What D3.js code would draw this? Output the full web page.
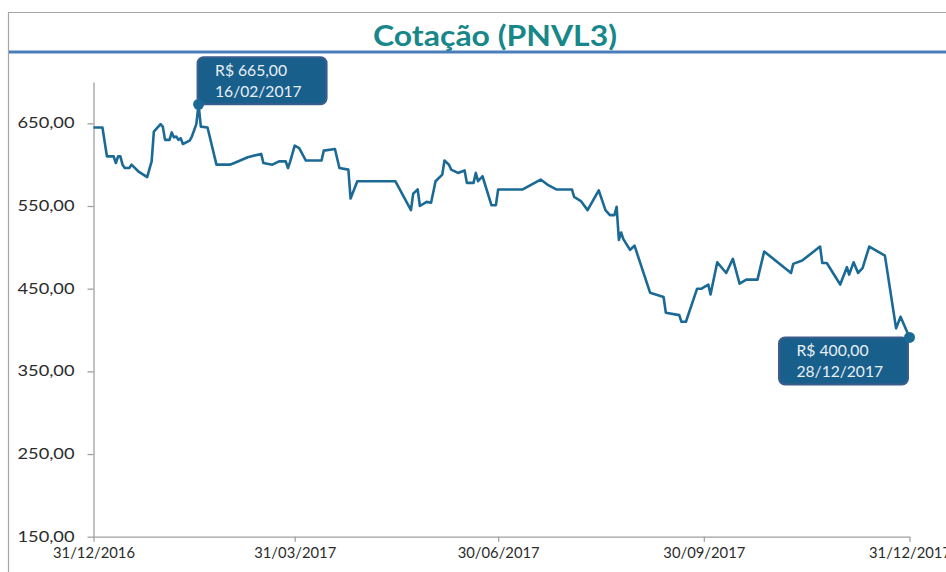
<!DOCTYPE html>
<html>
<head>
<meta charset="utf-8">
<script src="https://cdn.jsdelivr.net/npm/d3@7"></script>
<style>
  html, body { margin: 0; padding: 0; background: #ffffff; }
  svg { display: block; }
</style>
</head>
<body>
<svg id="chart" width="946" height="572"></svg>
<script>
// ---------------- DATA ----------------
const chartTitle = "Cotação (PNVL3)";

const dates = [
  "2016-12-31","2017-01-04","2017-01-06","2017-01-09","2017-01-10","2017-01-11","2017-01-12","2017-01-13","2017-01-14","2017-01-16",
  "2017-01-17","2017-01-20","2017-01-24","2017-01-26","2017-01-27","2017-01-30","2017-01-31","2017-02-01","2017-02-03","2017-02-04",
  "2017-02-05","2017-02-06","2017-02-07","2017-02-08","2017-02-09","2017-02-12","2017-02-13","2017-02-15","2017-02-16","2017-02-17",
  "2017-02-20","2017-02-24","2017-03-02","2017-03-04","2017-03-10","2017-03-16","2017-03-17","2017-03-21","2017-03-24","2017-03-27",
  "2017-03-28","2017-03-29","2017-03-31","2017-04-02","2017-04-05","2017-04-12","2017-04-13","2017-04-18","2017-04-20","2017-04-24",
  "2017-04-25","2017-04-28","2017-05-15","2017-05-17","2017-05-22","2017-05-23","2017-05-25","2017-05-26","2017-05-29","2017-05-31",
  "2017-06-02","2017-06-05","2017-06-06","2017-06-08","2017-06-09","2017-06-12","2017-06-15","2017-06-16","2017-06-19","2017-06-20",
  "2017-06-21","2017-06-23","2017-06-27","2017-06-29","2017-06-30","2017-07-11","2017-07-19","2017-07-22","2017-07-26","2017-08-02",
  "2017-08-03","2017-08-06","2017-08-09","2017-08-14","2017-08-17","2017-08-19","2017-08-21","2017-08-22","2017-08-23","2017-08-24",
  "2017-08-25","2017-08-28","2017-08-30","2017-09-06","2017-09-12","2017-09-13","2017-09-19","2017-09-20","2017-09-22","2017-09-27",
  "2017-09-29","2017-10-02","2017-10-03","2017-10-06","2017-10-10","2017-10-13","2017-10-16","2017-10-19","2017-10-24","2017-10-27",
  "2017-11-08","2017-11-09","2017-11-13","2017-11-21","2017-11-22","2017-11-24","2017-11-30","2017-12-02","2017-12-03","2017-12-04",
  "2017-12-06","2017-12-08","2017-12-10","2017-12-13","2017-12-20","2017-12-25","2017-12-27","2017-12-31"
];

const prices = [
  645,645,610,610,602,610,610,600,596,596,
  600,592,585,604,640,649,646,630,630,639,
  633,634,630,632,625,629,634,649,673,646,
  645,600,600,602,609,613,602,600,604,604,
  596,604,623,620,605,605,617,619,596,594,
  559,580,580,570,545,565,570,550,555,554,
  580,588,605,600,594,590,593,578,578,590,
  580,586,551,551,570,570,582,576,570,570,
  561,556,545,569,545,539,539,549,509,518,
  510,497,502,445,440,421,418,410,410,450,
  450,455,443,482,469,486,456,461,461,495,
  469,480,484,501,481,481,455,469,476,467,
  482,469,475,501,490,402,416,391
];

const yTicks = [150, 250, 350, 450, 550, 650];
const xTickDates = ["2016-12-31", "2017-03-31", "2017-06-30", "2017-09-30", "2017-12-31"];

const calloutDates = ["2017-02-16", "2017-12-31"];
const calloutValues = [673, 391];
const calloutLines = [["R$ 665,00", "16/02/2017"], ["R$ 400,00", "28/12/2017"]];

// ---------------- SETUP ----------------
const parse = d3.timeParse("%Y-%m-%d");
const fmtDate = d3.timeFormat("%d/%m/%Y");
const fmtNum = v => d3.format(".2f")(v).replace(".", ",");

const series = dates.map((d, i) => ({ date: parse(d), value: prices[i] }));

const svg = d3.select("#chart");
const W = 946, H = 572;

const x = d3.scaleTime()
  .domain([parse("2016-12-31"), parse("2017-12-31")])
  .range([93.5, 909.5]);
const y = d3.scaleLinear()
  .domain([150, 700])
  .range([536.7, 82]);

const FONT = "Lato, 'Open Sans', sans-serif";

// outer frame
svg.append("path")
  .attr("d", `M8.5,${H} V12.5 H${W}`)
  .attr("fill", "none")
  .attr("stroke", "#a6a6a6")
  .attr("stroke-width", 1.2);

// title
svg.append("text")
  .attr("x", 495)
  .attr("y", 46)
  .attr("text-anchor", "middle")
  .attr("font-family", FONT)
  .attr("font-weight", "bold")
  .attr("font-size", 28)
  .attr("fill", "#17878a")
  .attr("textLength", 244)
  .attr("lengthAdjust", "spacingAndGlyphs")
  .text(chartTitle);

// blue rule below title
svg.append("line")
  .attr("x1", 9).attr("x2", W)
  .attr("y1", 52).attr("y2", 52)
  .attr("stroke", "#4a7ebb")
  .attr("stroke-width", 3.2);

// axes
const yAxis = d3.axisLeft(y)
  .tickValues(yTicks)
  .tickFormat(fmtNum)
  .tickSize(6)
  .tickSizeOuter(0)
  .tickPadding(13);
const gy = svg.append("g")
  .attr("transform", "translate(93.5,0)")
  .call(yAxis);

const xAxis = d3.axisBottom(x)
  .tickValues(xTickDates.map(parse))
  .tickFormat(fmtDate)
  .tickSize(5)
  .tickSizeOuter(0)
  .tickPadding(6);
const gx = svg.append("g")
  .attr("transform", "translate(0,536.7)")
  .call(xAxis);

[gx, gy].forEach(g => {
  g.select(".domain").attr("stroke", "#a0a0a0").attr("stroke-width", 1.3);
  g.selectAll(".tick line").attr("stroke", "#a0a0a0").attr("stroke-width", 1.3);
  g.selectAll(".tick text")
    .attr("font-family", FONT)
    .attr("font-size", 14.5)
    .attr("fill", "#2b2b2b");
});
gy.selectAll(".tick text")
  .attr("textLength", 57)
  .attr("lengthAdjust", "spacingAndGlyphs");
gx.selectAll(".tick text")
  .attr("textLength", 82)
  .attr("lengthAdjust", "spacingAndGlyphs");

// line
const line = d3.line()
  .x(d => x(d.date))
  .y(d => y(d.value));

svg.append("path")
  .datum(series)
  .attr("d", line)
  .attr("fill", "none")
  .attr("stroke", "#1b6a96")
  .attr("stroke-width", 2.6)
  .attr("stroke-linejoin", "round");

// callouts
const calloutData = calloutDates.map((d, i) => ({
  date: parse(d), value: calloutValues[i], lines: calloutLines[i], idx: i
}));

const boxW = 129, boxH = 47;
calloutData.forEach(c => {
  const px = x(c.date), py = y(c.value);
  let bx, by;
  if (c.idx === 0) { bx = px - 1; by = py - boxH; }
  else { bx = px - boxW - 1.5; by = py; }
  const g = svg.append("g");
  g.append("rect")
    .attr("x", bx).attr("y", by)
    .attr("width", boxW).attr("height", boxH)
    .attr("rx", 6).attr("ry", 6)
    .attr("fill", "#195f8c")
    .attr("stroke", "#3d5c8e")
    .attr("stroke-width", 2);
  c.lines.forEach((t, j) => {
    g.append("text")
      .attr("x", bx + 17.5)
      .attr("y", by + 18.5 + j * 21)
      .attr("font-family", FONT)
      .attr("font-size", 15)
      .attr("fill", "#e9eff6")
      .attr("textLength", j === 0 ? 72 : 86.5)
      .attr("lengthAdjust", "spacingAndGlyphs")
      .text(t);
  });
  svg.append("circle")
    .attr("cx", px).attr("cy", py)
    .attr("r", 5.5)
    .attr("fill", "#1b6a96");
});
</script>
</body>
</html>
